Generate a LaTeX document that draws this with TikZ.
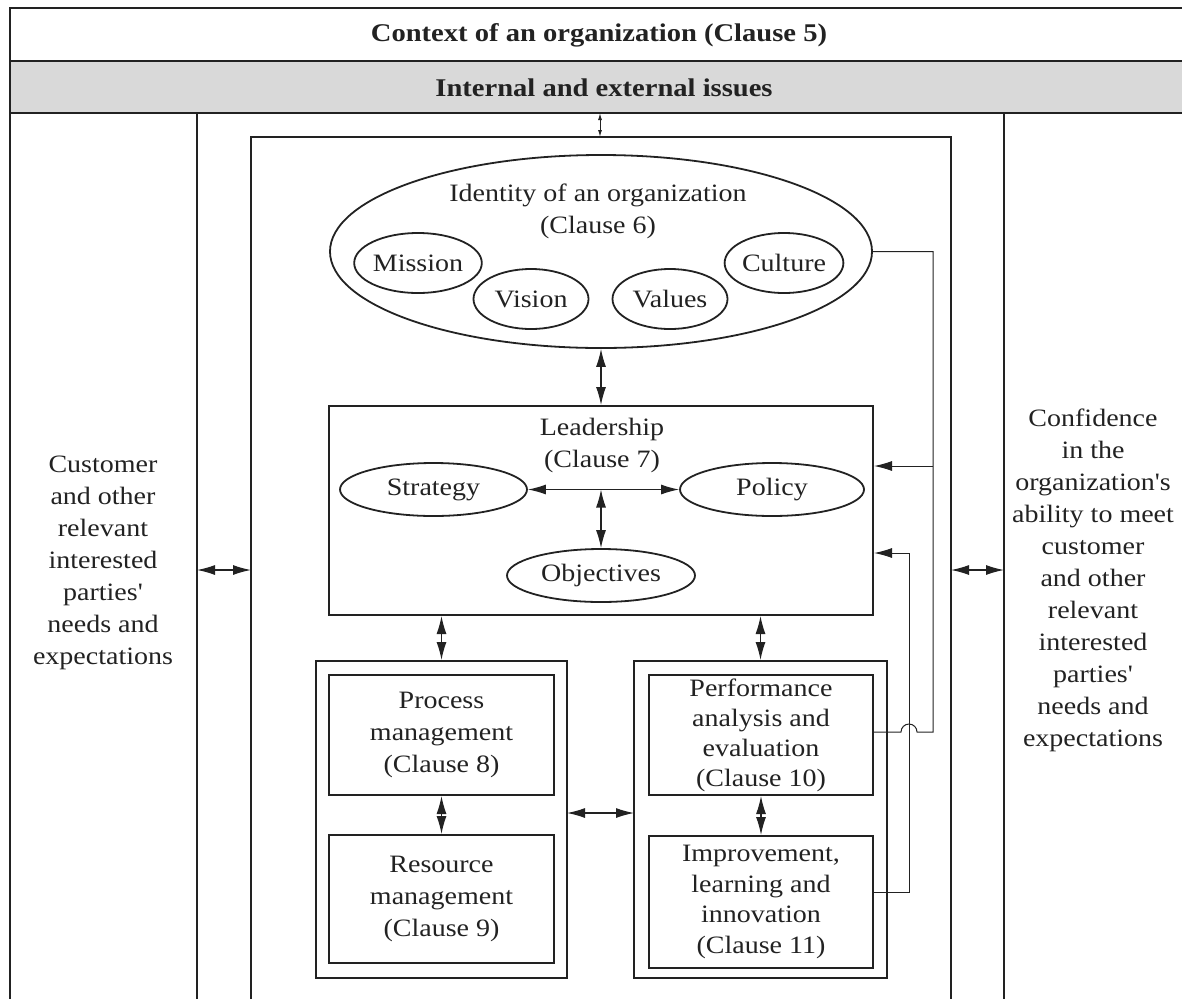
\documentclass[tikz,border=0pt]{standalone}
\usepackage{fontspec}
\setmainfont{Liberation Serif}[FakeStretch=1.12,Ligatures=TeXOff]
\usetikzlibrary{shapes.geometric,arrows.meta,calc}
\definecolor{ink}{HTML}{222222}
\definecolor{band}{HTML}{D9D9D9}
\begin{document}
\begin{tikzpicture}[x=1pt,y=-1pt,
  every node/.style={text=ink},
  txt/.style={font=\fontsize{25}{32}\selectfont, align=center, inner sep=0pt},
  frame/.style={draw=ink, line width=2pt},
  boxnode/.style={draw=ink, line width=2pt, rectangle, inner sep=0pt},
  ell/.style={draw=ink, ellipse, line width=1.8pt, inner sep=0pt, font=\fontsize{25}{32}\selectfont},
  arr/.style={{Latex[length=18pt,width=10pt]}-{Latex[length=18pt,width=10pt]}, draw=ink, line width=1.2pt},
  smallarr/.style={{Latex[length=7pt,width=4pt]}-{Latex[length=7pt,width=4pt]}, draw=ink, line width=1pt},
  fb/.style={draw=ink, line width=1pt},
  fbarr/.style={-{Latex[length=18pt,width=10pt]}, draw=ink, line width=1pt}]
\useasboundingbox (0,0) rectangle (1182,999);
% header rows
\fill[band] (10,61) rectangle (1182,113);
\draw[frame] (1182,8) -- (10,8) -- (10,999);
\draw[frame] (10,61) -- (1182,61);
\draw[frame] (10,113) -- (1182,113);
\node[txt, font=\bfseries\fontsize{25.5}{32}\selectfont] (title) at (599,35) {Context of an organization (Clause 5)};
\node[txt, font=\bfseries\fontsize{25.5}{32}\selectfont] (issues) at (604,88) {Internal and external issues};
% columns
\draw[frame] (197,113) -- (197,999);
\draw[frame] (1004,113) -- (1004,999);
% inner big box (open at bottom)
\draw[frame] (251,999) -- (251,137) -- (951,137) -- (951,999);
\coordinate (innertop) at (600,137);
\coordinate (bandbot) at (600,113);
\draw[smallarr] (bandbot) -- (innertop);
% side texts
\node[txt] (cust) at (103,563) {Customer\\and other\\relevant\\interested\\parties'\\needs and\\expectations};
\node[txt] (conf) at (1093,580.5) {Confidence\\in the\\organization's\\ability to meet\\customer\\and other\\relevant\\interested\\parties'\\needs and\\expectations};
\coordinate (lcol) at (197,570);
\coordinate (linner) at (251,570);
\coordinate (rinner) at (951,570);
\coordinate (rcol) at (1004,570);
\draw[arr] (lcol) -- (linner);
\draw[arr] (rinner) -- (rcol);
% identity
\node[ell, minimum width=542pt, minimum height=193pt] (ident) at (601,251.5) {};
\node[txt] (identtxt) at (598,211.5) {Identity of an organization\\(Clause 6)};
\node[ell, minimum width=115pt, minimum height=60pt] (mission) at (418,263) {Mission};
\node[ell, minimum width=115pt, minimum height=60pt] (vision) at (531,299) {Vision};
\node[ell, minimum width=115pt, minimum height=60pt] (values) at (670,299) {Values};
\node[ell, minimum width=116pt, minimum height=60pt] (culture) at (784,263) {Culture};
% leadership
\node[boxnode, minimum width=544pt, minimum height=209pt] (lead) at (601,510.5) {};
\node[txt] (leadtxt) at (602,445.5) {Leadership\\(Clause 7)};
\node[ell, minimum width=187pt, minimum height=53pt] (strategy) at (433.5,489.5) {Strategy};
\node[ell, minimum width=184pt, minimum height=53pt] (policy) at (772,489.5) {Policy};
\node[ell, minimum width=188pt, minimum height=53pt] (objectives) at (601,575.5) {Objectives};
\draw[arr] (ident.south) -- (lead.north);
\draw[arr] (strategy.east) -- (policy.west);
\draw[arr] (objectives.north |- strategy.east) -- (objectives.north);
% lower groups
\node[boxnode, minimum width=251pt, minimum height=317pt] (leftgrp) at (441.5,819.5) {};
\node[boxnode, minimum width=225pt, minimum height=120pt, txt] (process) at (441.5,735) {Process\\management\\(Clause 8)};
\node[boxnode, minimum width=225pt, minimum height=128pt, txt] (resource) at (441.5,899) {Resource\\management\\(Clause 9)};
\node[boxnode, minimum width=253pt, minimum height=317pt] (rightgrp) at (760.5,819.5) {};
\node[boxnode, minimum width=224pt, minimum height=120pt, txt, font=\fontsize{25}{30}\selectfont] (perf) at (761,735) {Performance\\analysis and\\evaluation\\(Clause 10)};
\node[boxnode, minimum width=224pt, minimum height=132pt, txt, font=\fontsize{25}{30.5}\selectfont] (improve) at (761,902) {Improvement,\\learning and\\innovation\\(Clause 11)};
\draw[arr] (lead.south -| leftgrp.north) -- (leftgrp.north);
\draw[arr] (lead.south -| rightgrp.north) -- (rightgrp.north);
\draw[arr] (process.south) -- (resource.north);
\draw[arr] (perf.south) -- (improve.north);
\coordinate (lgE) at (567,813);
\coordinate (rgW) at (634,813);
\draw[arr] (lgE) -- (rgW);
% feedback lines
\coordinate (fbA) at (933,251.5);
\coordinate (fbB) at (933,732);
\coordinate (perfE) at (873,732);
\coordinate (fbC) at (909,892);
\coordinate (fbD) at (909,553);
\draw[fb] (ident.east) -- (fbA) -- (fbB) -- (917,732) arc[start angle=0, end angle=-180, radius=8] -- (perfE);
\draw[fbarr] (fbA |- 0,466) -- (lead.east |- 0,466);
\draw[fb] (improve.east |- fbC) -- (fbC) -- (fbD);
\draw[fbarr] (fbD) -- (lead.east |- fbD);
\end{tikzpicture}
\end{document}
